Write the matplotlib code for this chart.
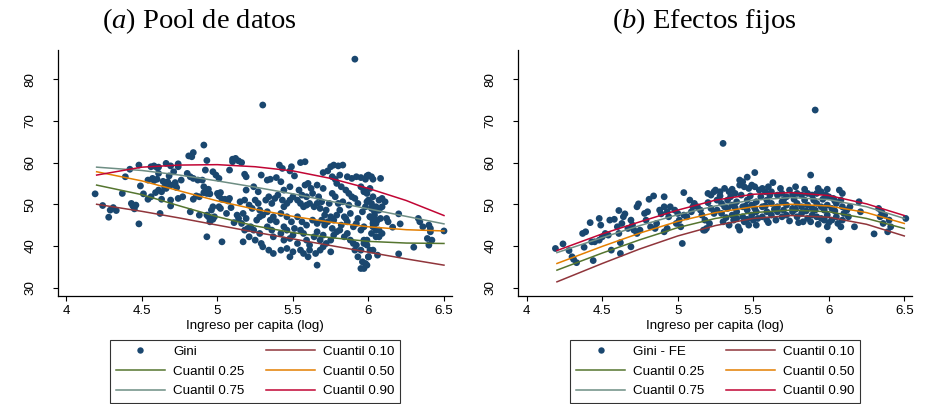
import matplotlib
matplotlib.use('Agg')
import matplotlib.pyplot as plt
from matplotlib.lines import Line2D

plt.rcParams['font.family'] = ['Liberation Sans', 'DejaVu Sans']
plt.rcParams['mathtext.fontset'] = 'custom'
plt.rcParams['mathtext.rm'] = 'Liberation Serif'
plt.rcParams['mathtext.it'] = 'Liberation Serif:italic'

# ==== DATA ====
# (log income per capita, Gini) - pooled data
pool_pts = [
    (4.19, 52.5), (4.24, 49.7), (4.28, 46.9), (4.29, 48.6), (4.31, 49.2), (4.33, 48.5),
    (4.37, 52.6), (4.39, 56.6), (4.42, 58.4), (4.43, 50.2), (4.44, 49.6), (4.45, 48.9),
    (4.46, 49.8), (4.48, 45.3), (4.48, 59.4), (4.49, 54.4),
    (4.51, 52.5), (4.54, 51.2), (4.56, 51.8), (4.54, 55.8), (4.57, 56.2), (4.58, 55.7),
    (4.56, 59.0), (4.58, 59.2), (4.59, 52.8), (4.60, 56.0), (4.60, 58.8),
    (4.61, 57.4), (4.61, 58.9), (4.62, 47.8), (4.61, 53.4), (4.63, 53.0), (4.63, 51.2),
    (4.64, 55.5), (4.66, 53.8), (4.66, 59.8), (4.67, 55.4), (4.68, 56.8), (4.69, 54.6),
    (4.69, 59.2), (4.69, 51.0), (4.69, 49.6), (4.65, 54.2),
    (4.71, 57.8), (4.72, 55.2), (4.73, 54.0), (4.74, 59.0), (4.74, 59.7), (4.74, 51.4),
    (4.76, 55.8), (4.72, 54.6), (4.77, 51.8),
    (4.80, 57.4), (4.81, 61.6), (4.83, 61.4), (4.84, 62.4), (4.82, 56.6), (4.84, 56.2),
    (4.87, 55.8), (4.82, 48.2), (4.84, 51.2), (4.88, 47.4), (4.88, 51.8), (4.86, 52.0),
    (4.90, 55.8), (4.91, 54.2), (4.92, 58.2), (4.91, 64.2), (4.93, 60.5), (4.91, 52.8),
    (4.93, 52.6), (4.95, 52.5), (4.93, 47.4), (4.94, 47.0), (4.95, 45.8), (4.97, 46.4),
    (4.98, 47.0), (4.96, 48.6), (4.97, 49.4), (4.93, 42.2), (4.97, 57.8), (4.99, 57.0),
    (4.94, 53.6),
    (5.01, 56.2), (5.00, 52.6), (5.01, 52.0), (5.02, 52.8), (5.03, 51.2), (5.01, 49.4),
    (5.02, 49.0), (5.03, 41.0), (5.05, 51.2), (5.07, 50.8), (5.08, 51.4), (5.08, 58.2),
    (5.06, 47.8), (5.09, 49.2),
    (5.10, 60.8), (5.12, 61.0), (5.10, 60.2), (5.14, 60.4), (5.11, 45.6), (5.13, 47.4),
    (5.14, 46.6), (5.17, 41.0), (5.20, 44.2),
    (5.16, 60.0), (5.18, 57.2), (5.19, 56.6), (5.29, 57.0), (5.33, 55.8), (5.35, 56.0),
    (5.39, 56.4), (5.42, 55.4), (5.41, 59.4), (5.43, 58.6), (5.49, 59.0), (5.48, 58.0),
    (5.55, 60.0), (5.58, 60.2), (5.51, 56.8), (5.60, 55.0), (5.58, 54.6), (5.70, 57.6),
    (5.73, 58.0), (5.75, 59.0), (5.77, 59.4), (5.80, 59.2), (5.83, 59.4), (5.81, 57.0),
    (5.86, 56.6), (5.76, 56.6), (5.78, 56.0), (5.89, 56.2), (5.92, 56.6), (5.95, 56.4),
    (5.99, 56.8), (6.02, 56.6), (6.03, 56.0), (5.79, 55.0), (5.82, 54.2), (5.85, 53.4),
    (5.87, 52.6), (5.89, 51.8), (5.91, 51.4), (5.95, 54.2), (5.97, 53.4), (5.99, 52.6),
    (6.00, 51.0), (6.02, 50.2), (6.05, 49.4), (6.06, 48.6), (5.63, 52.6),
    (5.15, 50.6), (5.18, 51.0), (5.21, 49.8), (5.23, 49.0), (5.17, 47.8), (5.19, 46.6),
    (5.16, 45.4), (5.22, 44.6), (5.25, 51.0), (5.27, 50.2), (5.28, 48.6), (5.30, 47.4),
    (5.26, 46.2), (5.24, 43.8), (5.28, 43.0), (5.33, 44.6), (5.35, 46.2), (5.37, 47.0),
    (5.39, 45.8), (5.42, 47.8), (5.44, 49.4), (5.46, 50.2), (5.48, 51.0), (5.50, 51.8),
    (5.53, 51.0), (5.55, 50.2), (5.57, 49.4), (5.59, 49.8), (5.61, 50.2), (5.64, 49.4),
    (5.66, 50.2), (5.68, 49.0), (5.32, 51.0), (5.34, 51.8), (5.36, 50.2), (5.38, 51.4),
    (5.40, 52.2), (5.43, 51.0), (5.37, 42.2), (5.42, 43.0), (5.44, 41.4), (5.46, 43.8),
    (5.48, 41.8), (5.50, 42.6), (5.53, 40.6), (5.55, 43.8), (5.57, 43.0), (5.59, 41.4),
    (5.61, 40.2), (5.64, 42.2), (5.66, 43.4), (5.68, 41.4), (5.70, 42.6), (5.30, 39.8),
    (5.34, 39.0), (5.37, 38.2), (5.42, 39.0), (5.46, 39.4), (5.48, 37.4), (5.50, 38.6),
    (5.55, 39.0), (5.57, 38.2), (5.60, 37.4), (5.61, 39.0), (5.65, 38.2), (5.68, 39.0),
    (5.70, 39.8), (5.72, 40.6), (5.75, 41.4), (5.77, 42.6), (5.79, 43.4), (5.81, 43.8),
    (5.84, 42.2), (5.86, 43.0), (5.88, 41.4), (5.90, 40.6), (5.92, 40.2), (5.95, 39.0),
    (5.97, 40.6), (5.99, 41.4), (5.75, 47.0), (5.77, 46.2), (5.79, 47.4), (5.81, 48.6),
    (5.84, 47.0), (5.86, 45.8), (5.88, 47.8), (5.90, 44.6), (5.92, 45.4), (5.95, 43.8),
    (5.97, 44.6), (6.01, 47.0), (6.03, 45.4), (6.06, 46.2), (6.02, 43.0), (6.05, 43.8),
    (6.07, 42.2), (5.91, 39.0), (5.93, 37.4), (5.96, 36.2), (5.97, 34.6), (5.99, 35.4),
    (6.00, 37.4), (5.75, 38.6), (5.66, 35.4), (5.72, 48.6), (5.74, 50.2),
    (5.19, 53.4), (5.24, 54.2), (5.27, 53.0), (5.44, 53.4), (5.48, 54.2), (5.54, 53.4),
    (5.56, 52.2), (5.59, 51.8), (5.67, 51.8), (5.69, 50.6), (5.28, 47.0), (5.33, 48.2),
    (5.46, 47.0), (5.49, 45.8), (5.53, 47.0), (5.56, 45.8), (5.59, 45.0), (5.63, 46.2),
    (5.66, 45.4), (5.69, 46.2), (5.44, 44.6), (5.51, 44.2), (5.36, 43.8), (5.21, 42.2),
    (5.18, 43.8), (5.25, 41.4), (5.29, 40.6), (5.71, 45.0), (5.71, 47.4),
    (5.73, 45.8), (5.76, 44.2), (5.82, 45.0), (5.85, 46.6), (5.93, 46.6), (5.96, 48.2),
    (5.98, 49.4), (5.93, 50.2), (5.87, 49.8), (5.83, 50.6), (5.78, 51.8), (5.80, 50.2),
    (5.76, 52.6), (5.70, 53.8), (5.66, 54.6), (5.62, 53.8),
    (5.98, 56.0), (6.00, 57.0), (6.08, 56.2), (5.97, 53.0), (6.01, 53.8),
    (6.03, 51.8), (6.07, 51.0), (6.09, 51.4), (6.11, 50.6), (5.99, 50.6), (6.02, 49.0),
    (6.04, 48.2), (6.07, 48.6), (6.09, 49.4), (6.01, 47.0), (6.03, 46.2), (6.05, 45.4),
    (6.08, 46.6), (6.04, 47.4), (6.03, 44.6), (6.07, 43.8), (6.09, 43.0), (6.05, 42.2),
    (6.12, 46.6), (6.13, 45.8), (6.16, 44.5), (6.20, 47.7), (6.21, 45.3), (6.20, 38.1),
    (5.97, 41.4), (5.99, 40.2), (6.01, 39.0), (6.00, 37.4), (5.98, 35.8), (5.95, 34.6),
    (6.03, 39.0), (6.06, 37.8), (6.30, 39.7), (6.33, 46.6), (6.34, 45.8), (6.36, 44.6),
    (6.40, 45.0), (6.41, 43.4), (6.39, 41.8), (6.40, 40.2), (6.42, 41.4), (6.41, 44.2),
    (6.50, 43.6),
    (5.30, 73.8), (5.91, 84.8),
]

# (log income per capita, Gini - fixed effects)
fe_pts = [
    (4.19, 39.4), (4.24, 40.5), (4.28, 38.9), (4.30, 37.4), (4.31, 36.8), (4.33, 36.0),
    (4.38, 39.7), (4.37, 43.0), (4.39, 43.4), (4.42, 45.6), (4.44, 36.5), (4.43, 41.0),
    (4.45, 41.0), (4.48, 46.6), (4.49, 45.0), (4.48, 41.4), (4.50, 42.2), (4.52, 43.0),
    (4.54, 42.6), (4.55, 46.2), (4.58, 46.4), (4.56, 39.0), (4.60, 44.6), (4.61, 43.0),
    (4.62, 40.8), (4.62, 38.2), (4.61, 48.5), (4.64, 47.0), (4.65, 47.7), (4.63, 45.4),
    (4.67, 44.2), (4.69, 46.2), (4.70, 45.0), (4.71, 43.8), (4.69, 39.8), (4.73, 49.4),
    (4.74, 50.1), (4.73, 43.0), (4.75, 43.8), (4.78, 47.8), (4.80, 48.2), (4.79, 46.2),
    (4.81, 51.2), (4.84, 52.0), (4.82, 44.6), (4.85, 44.2), (4.86, 45.4), (4.88, 48.6),
    (4.89, 47.7), (4.91, 49.4), (4.93, 48.2), (4.94, 47.0), (4.91, 51.8), (4.91, 43.4),
    (4.93, 44.2), (4.95, 49.4), (4.98, 48.6), (5.00, 47.8), (5.01, 46.2), (4.99, 45.4),
    (5.02, 44.6), (5.03, 40.6), (5.04, 52.8), (5.04, 47.4), (5.06, 47.0), (5.09, 48.2),
    (5.10, 49.4), (5.08, 51.0), (5.11, 50.2), (5.13, 49.4), (5.15, 48.6), (5.16, 47.4),
    (5.18, 46.2), (5.19, 44.2), (5.18, 43.8), (5.20, 52.6), (5.22, 52.2), (5.24, 53.0),
    (5.20, 50.4), (5.22, 49.0), (5.24, 47.8), (5.17, 43.8), (5.21, 45.4),
    (5.25, 53.4), (5.28, 53.0), (5.31, 53.8), (5.34, 53.0), (5.36, 53.6), (5.38, 52.6),
    (5.41, 55.8), (5.43, 55.4), (5.46, 56.5), (5.51, 57.6), (5.41, 54.6), (5.44, 54.2),
    (5.47, 53.8), (5.49, 54.6), (5.51, 54.2), (5.54, 53.4), (5.56, 53.8), (5.58, 53.0),
    (5.60, 54.2), (5.26, 51.0), (5.29, 50.2), (5.33, 51.0), (5.36, 49.8), (5.39, 50.6),
    (5.43, 49.4), (5.46, 51.0), (5.49, 49.8), (5.52, 50.6), (5.56, 49.4), (5.59, 51.0),
    (5.26, 48.6), (5.29, 47.8), (5.33, 49.0), (5.36, 47.4), (5.39, 48.2), (5.43, 47.0),
    (5.46, 48.6), (5.49, 47.4), (5.52, 48.2), (5.56, 47.0), (5.59, 48.2), (5.30, 45.8),
    (5.34, 45.0), (5.37, 46.2), (5.40, 44.6), (5.44, 45.8), (5.47, 45.0), (5.50, 46.2),
    (5.52, 45.0), (5.59, 46.2), (5.41, 43.8),
    (5.28, 52.0), (5.35, 51.8), (5.42, 52.2), (5.48, 52.0), (5.55, 51.8), (5.61, 52.2),
    (5.31, 49.4), (5.38, 49.2), (5.45, 49.6), (5.51, 49.0), (5.58, 49.6), (5.64, 48.8),
    (5.70, 48.6), (5.78, 48.8), (5.85, 48.4), (5.91, 48.6), (5.97, 48.6), (6.04, 48.4),
    (6.10, 47.8), (5.32, 46.8), (5.39, 46.6), (5.46, 46.4), (5.53, 46.6), (5.60, 45.6),
    (5.65, 46.2), (5.74, 46.0), (5.80, 45.6), (5.88, 45.8), (5.93, 45.2), (6.00, 45.6),
    (6.06, 45.4), (5.70, 51.0), (5.77, 51.2), (5.84, 51.0), (5.90, 51.0), (5.96, 51.2),
    (6.04, 50.8), (6.08, 51.0), (5.68, 53.8), (5.74, 53.4), (5.84, 53.6), (5.93, 53.8),
    (5.99, 53.6),
    (5.63, 55.2), (5.78, 54.2), (5.88, 57.0), (6.00, 41.4),
    (5.62, 53.0), (5.66, 52.2), (5.69, 52.6), (5.72, 51.8), (5.76, 52.2), (5.79, 52.6),
    (5.82, 52.2), (5.86, 52.6), (5.89, 52.2), (5.92, 52.6), (5.95, 53.0), (5.98, 52.2),
    (6.00, 51.8), (6.03, 51.4), (6.07, 53.4), (6.09, 52.6), (6.20, 50.6), (6.21, 48.2),
    (5.62, 50.2), (5.66, 49.4), (5.69, 50.6), (5.72, 49.8), (5.76, 49.0), (5.79, 50.2),
    (5.82, 49.4), (5.86, 49.8), (5.89, 49.0), (5.92, 50.2), (5.95, 49.4), (5.99, 49.8),
    (6.02, 49.0), (6.05, 50.2), (6.09, 49.4), (6.12, 48.6),
    (5.62, 47.4), (5.66, 48.2), (5.69, 47.0), (5.72, 47.4), (5.76, 48.2), (5.79, 47.0),
    (5.82, 47.8), (5.86, 46.6), (5.89, 47.4), (5.92, 47.0), (5.95, 46.6), (5.99, 47.4),
    (6.02, 46.2), (6.05, 47.0), (6.09, 46.2),
    (5.83, 45.8), (5.97, 46.2), (6.08, 44.6), (6.17, 44.6), (5.99, 44.6), (6.13, 47.0),
    (6.14, 49.4), (6.30, 42.9), (6.33, 49.0), (6.35, 48.2), (6.37, 47.4), (6.40, 46.2),
    (6.41, 44.6), (6.39, 43.4), (6.36, 45.4), (6.34, 47.0), (6.51, 46.6),
    (5.30, 64.6), (5.91, 72.6),
]

# fitted quantile curves, read at these x values
q_x = [4.2, 4.5, 4.75, 5.0, 5.25, 5.5, 5.75, 6.0, 6.25, 6.5]
pool_q10 = [50.0, 48.3, 46.7, 45.0, 43.3, 41.7, 40.1, 38.5, 36.9, 35.4]
pool_q25 = [54.6, 52.3, 49.6, 47.0, 44.8, 43.2, 42.0, 41.1, 40.7, 40.6]
pool_q50 = [57.8, 55.6, 53.2, 50.8, 48.8, 47.1, 45.7, 44.6, 43.9, 43.6]
pool_q75 = [58.9, 58.1, 57.0, 55.6, 54.1, 52.5, 50.7, 48.9, 47.1, 45.3]
pool_q90 = [57.0, 58.9, 59.4, 59.5, 59.0, 58.0, 56.2, 53.8, 50.9, 47.3]

fe_q10 = [31.4, 35.8, 39.3, 42.4, 44.9, 46.6, 47.3, 46.9, 45.2, 42.4]
fe_q25 = [34.2, 38.3, 41.5, 44.4, 46.6, 48.0, 48.6, 48.2, 46.6, 44.2]
fe_q50 = [35.8, 39.9, 43.1, 45.9, 48.0, 49.4, 50.0, 49.6, 48.0, 45.4]
fe_q75 = [38.4, 42.0, 44.9, 47.5, 49.6, 51.0, 51.6, 51.1, 49.4, 46.6]
fe_q90 = [38.9, 42.9, 45.8, 48.6, 51.0, 52.4, 52.8, 52.1, 50.1, 47.3]

q_labels = ['Cuantil 0.10', 'Cuantil 0.25', 'Cuantil 0.50', 'Cuantil 0.75', 'Cuantil 0.90']
# =======================================

navy = '#1a476f'
q_colors = ['#90353b', '#55752f', '#e37e00', '#6e8e84', '#c10534']


def draw_panel(ax, pts, curves, scatter_label):
    xs, ys = zip(*pts)
    ax.scatter(xs, ys, s=24, color=navy, edgecolors='none', zorder=2)
    for yv, c in zip(curves, q_colors):
        ax.plot(q_x, yv, color=c, lw=1.1, zorder=3)

    ax.set_xlim(3.944, 6.553)
    ax.set_ylim(28.0, 87.0)
    ax.set_xticks([4, 4.5, 5, 5.5, 6, 6.5])
    ax.set_xticklabels(['4', '4.5', '5', '5.5', '6', '6.5'])
    ax.set_yticks([30, 40, 50, 60, 70, 80])
    for s in ['top', 'right']:
        ax.spines[s].set_visible(False)
    for s in ['left', 'bottom']:
        ax.spines[s].set_linewidth(0.9)
    ax.tick_params(axis='both', length=3.6, width=0.8, labelsize=9.6)
    ax.tick_params(axis='x', pad=3)
    ax.tick_params(axis='y', labelrotation=90, pad=12)
    for lab in ax.get_yticklabels():
        lab.set_va('center')
    ax.set_xlabel('Ingreso per capita (log)', fontsize=9.6, labelpad=2)

    h_sc = Line2D([], [], ls='none', marker='o', ms=4.6, color=navy, mec='none')
    h_q = [Line2D([], [], color=c, lw=1.1) for c in q_colors]
    handles = [h_sc, h_q[1], h_q[3], h_q[0], h_q[2], h_q[4]]
    labels = [scatter_label, q_labels[1], q_labels[3], q_labels[0], q_labels[2], q_labels[4]]
    leg = ax.legend(handles, labels, ncol=2, loc='upper center', bbox_to_anchor=(0.5, -0.179),
                    borderaxespad=0, frameon=True, fancybox=False, fontsize=9.6,
                    handlelength=3.7, handletextpad=0.6, columnspacing=1.6,
                    borderpad=0.42, labelspacing=0.55)
    leg.get_frame().set_edgecolor('black')
    leg.get_frame().set_linewidth(0.8)


fig = plt.figure(figsize=(9.26, 4.04), dpi=100)
ax1 = fig.add_axes([0.0626, 0.2673, 0.4255, 0.609])
ax2 = fig.add_axes([0.5597, 0.2673, 0.4255, 0.609])

draw_panel(ax1, pool_pts, [pool_q10, pool_q25, pool_q50, pool_q75, pool_q90], 'Gini')
draw_panel(ax2, fe_pts, [fe_q10, fe_q25, fe_q50, fe_q75, fe_q90], 'Gini - FE')

fig.text(0.215, 0.947, r'($\it{a}$) Pool de datos', family='Liberation Serif', fontsize=20.5,
         ha='center', va='center')
fig.text(0.761, 0.947, r'($\it{b}$) Efectos fijos', family='Liberation Serif', fontsize=20.5,
         ha='center', va='center')

fig.savefig('out.png', dpi=100)
